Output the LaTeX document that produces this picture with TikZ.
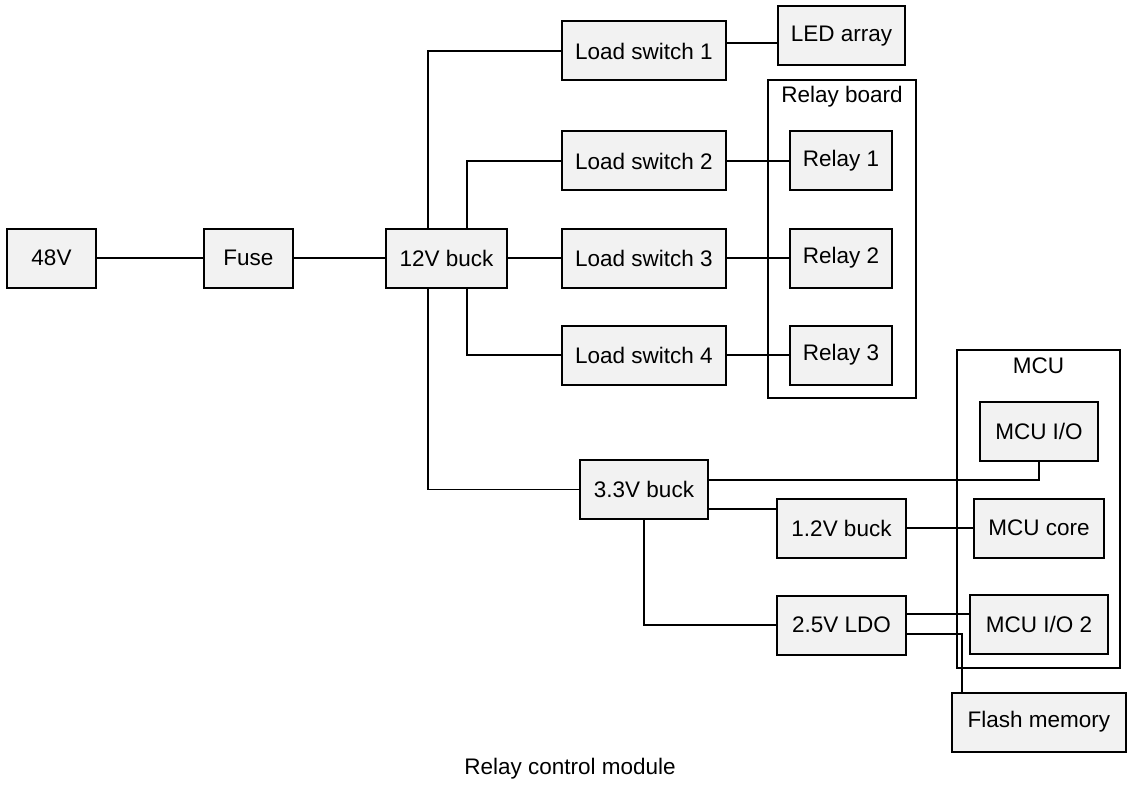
\documentclass[tikz,border=0pt]{standalone}
\usepackage{fontspec}
\setmainfont{Liberation Sans}
\usetikzlibrary{calc}
\definecolor{boxfill}{HTML}{F2F2F2}
\tikzset{
  blk/.style={draw, fill=boxfill, line width=2pt, minimum height=59pt,
    inner sep=0pt, font=\fontsize{22.5}{27}\selectfont},
  grp/.style={draw, line width=2pt, inner sep=0pt},
  grptitle/.style={inner sep=0pt, font=\fontsize{22.5}{27}\selectfont},
  wire/.style={line width=1.3pt}
}

\begin{document}
\begin{tikzpicture}[x=1pt,y=-1pt]
  \useasboundingbox (0,0) rectangle (1141,797);
  % clusters
  \node[grp, minimum width=148pt, minimum height=318pt] (relayboard) at (842,239) {};
  \node[grptitle] (relaytitle) at (842,97) {Relay board};
  \node[grp, minimum width=163pt, minimum height=318pt] (mcu) at (1038.5,509) {};
  \node[grptitle] (mcutitle) at (1038.5,366) {MCU};
  % power chain
  \node[blk, minimum width=89pt] (v48) at (51.5,258) {48V};
  \node[blk, minimum width=89pt] (fuse) at (248.5,258) {Fuse};
  \node[blk, minimum width=121pt] (buck12) at (446.5,258) {12V buck};
  % load switches
  \node[blk, minimum width=164pt] (ls1) at (644,51) {Load switch 1};
  \node[blk, minimum width=164pt] (ls2) at (644,161) {Load switch 2};
  \node[blk, minimum width=164pt] (ls3) at (644,258) {Load switch 3};
  \node[blk, minimum width=164pt] (ls4) at (644,355) {Load switch 4};
  \node[blk, minimum width=127pt] (ledarr) at (841.5,36) {LED array};
  \node[blk, minimum width=102pt] (relay1) at (841,161) {Relay 1};
  \node[blk, minimum width=102pt] (relay2) at (841,258) {Relay 2};
  \node[blk, minimum width=102pt] (relay3) at (841,355) {Relay 3};
  % logic supplies
  \node[blk, minimum width=128pt] (buck33) at (644,489.5) {3.3V buck};
  \node[blk, minimum width=129pt] (buck12v) at (841.5,528) {1.2V buck};
  \node[blk, minimum width=129pt] (ldo25) at (841.5,625) {2.5V LDO};
  \node[blk, minimum width=118pt] (mcuio) at (1039,431.5) {MCU I/O};
  \node[blk, minimum width=130pt] (mcucore) at (1039,528) {MCU core};
  \node[blk, minimum width=138pt] (mcuio2) at (1039,624.5) {MCU I/O 2};
  \node[blk, minimum width=174pt] (flash) at (1039,722) {Flash memory};
  \node[grptitle] (title) at (570,769) {Relay control module};
  % wiring
  \draw[wire] (v48) -- (fuse);
  \draw[wire] (fuse) -- (buck12);
  \draw[wire] ([xshift=-18.5pt]buck12.north) |- (ls1);
  \draw[wire] ([xshift=20.5pt]buck12.north) |- (ls2);
  \draw[wire] (buck12) -- (ls3);
  \draw[wire] ([xshift=20.5pt]buck12.south) |- (ls4);
  \draw[wire] ([xshift=-18.5pt]buck12.south) |- (buck33);
  \draw[wire] ([yshift=8pt]ls1.east) -- ([yshift=8pt]ls1.east -| ledarr.west);
  \draw[wire] (ls2) -- (relay1);
  \draw[wire] (ls3) -- (relay2);
  \draw[wire] (ls4) -- (relay3);
  \draw[wire] ([yshift=9.5pt]buck33.east) -| (mcuio.south);
  \draw[wire] ([yshift=-19.5pt]buck33.east) -- ([yshift=-19.5pt]buck33.east -| buck12v.west);
  \draw[wire] (buck33.south) |- (ldo25);
  \draw[wire] (buck12v) -- (mcucore);
  \draw[wire] ([yshift=11pt]ldo25.east) -- ([yshift=11pt]ldo25.east -| mcuio2.west);
  \draw[wire] ([yshift=-9pt]ldo25.east) -| ([xshift=-77pt]flash.north);
\end{tikzpicture}
\end{document}
